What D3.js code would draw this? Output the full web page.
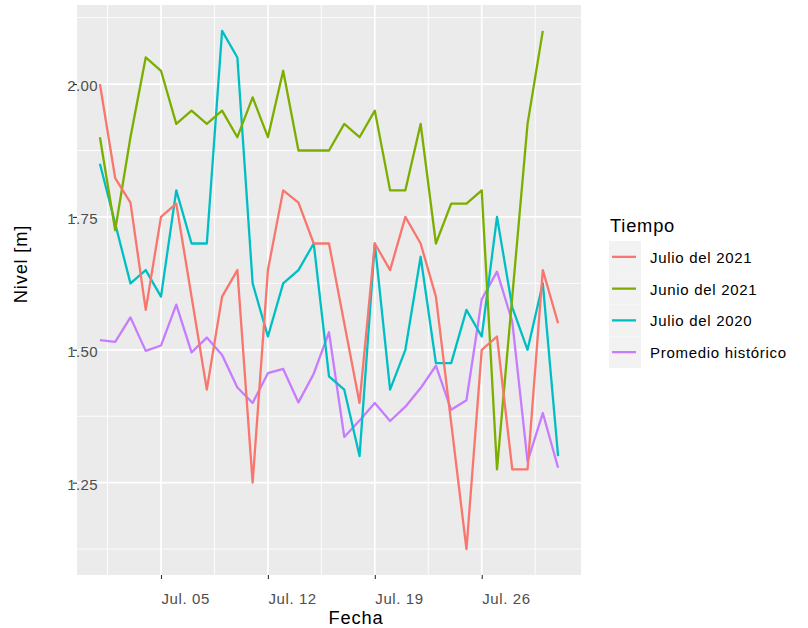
<!DOCTYPE html>
<html>
<head>
<meta charset="utf-8">
<script src="https://cdn.jsdelivr.net/npm/d3@7"></script>
<style>
  body { margin: 0; background: #fff; }
  text { font-family: "Liberation Sans", Arial, sans-serif; }
</style>
</head>
<body>
<div id="vis-container"></div>
<script>
// Dias del mes (fechas de julio); null = dia sin dato
const dias = [1, 2, 3, 4, 5, 6, 7, 8, 9, 10, 11, 12, 13, 14, 15, 16,
              17, 18, 19, 20, 21, 22, 23, 24, 25, 26, 27, 28, 29, 30, 31];

const julio2021 = [2.00, 1.823, 1.777, 1.575, 1.75, 1.775, null, 1.425, 1.60, 1.65, 1.25, 1.65,
                   1.80, 1.777, 1.70, 1.70, null, 1.40, 1.70, 1.65, 1.75, 1.70, 1.60, null,
                   1.125, 1.50, 1.525, 1.275, 1.275, 1.65, 1.55];
const junio2021 = [1.90, 1.725, 1.90, 2.05, 2.025, 1.925, 1.95, 1.925, 1.95, 1.90, 1.975, 1.90,
                   2.025, 1.875, 1.875, 1.875, 1.925, 1.90, 1.95, 1.80, 1.80, 1.925, 1.70, 1.775,
                   1.775, 1.80, 1.275, null, 1.925, 2.10, null];
const julio2020 = [1.85, null, 1.625, 1.65, 1.60, 1.80, 1.70, 1.70, 2.10, 2.05, 1.625, 1.525,
                   1.625, 1.65, 1.70, 1.45, 1.425, 1.30, 1.70, 1.425, 1.50, 1.675, 1.475, 1.475,
                   1.575, 1.525, 1.75, 1.58, 1.50, 1.625, 1.30];
const promedio  = [1.518, 1.515, 1.561, 1.498, 1.508, 1.585, 1.495, 1.523, 1.49, 1.429, 1.40, 1.456,
                   1.464, 1.401, 1.455, 1.533, 1.336, 1.367, 1.40, 1.366, 1.393, 1.428, 1.47, 1.387,
                   1.405, 1.595, 1.647, 1.553, 1.29, 1.381, 1.278];

const nombres = ["Julio del 2021", "Junio del 2021", "Julio del 2020", "Promedio histórico"];
const colores = ["#F8766D", "#7CAE00", "#00BFC4", "#C77CFF"];

const xTicks = [5, 12, 19, 26];
const xTickLabels = ["Jul. 05", "Jul. 12", "Jul. 19", "Jul. 26"];
const yTicks = [1.25, 1.50, 1.75, 2.00];

// Dimensions
const width = 808;
const height = 628;
const panel = { left: 77, right: 581, top: 5, bottom: 575 };

const svg = d3.select("#vis-container")
              .append("svg")
              .attr("width", width)
              .attr("height", height);

const valores = [julio2021, junio2021, julio2020, promedio];

// Scales, with ggplot style 5% expansion
const [minX, maxX] = d3.extent(dias);
const padX = (maxX - minX) * 0.05;
const x = d3.scaleLinear()
            .domain([minX - padX, maxX + padX])
            .range([panel.left, panel.right]);

const [minY, maxY] = d3.extent(valores.flat().filter(v => v != null));
const padY = (maxY - minY) * 0.05;
const y = d3.scaleLinear()
            .domain([minY - padY, maxY + padY])
            .range([panel.bottom, panel.top]);

// Panel background
svg.append("rect")
   .attr("x", panel.left)
   .attr("y", panel.top)
   .attr("width", panel.right - panel.left)
   .attr("height", panel.bottom - panel.top)
   .attr("fill", "#EBEBEB");

// Minor grid (half way between major ticks)
const xMinor = [xTicks[0] - 3.5].concat(xTicks.map(d => d + 3.5));
const yMinor = [yTicks[0] - 0.125].concat(yTicks.map(d => d + 0.125));

svg.append("g").selectAll("line")
   .data(yMinor.filter(d => y(d) > panel.top && y(d) < panel.bottom))
   .enter().append("line")
   .attr("x1", panel.left).attr("x2", panel.right)
   .attr("y1", d => y(d)).attr("y2", d => y(d))
   .attr("stroke", "#fff").attr("stroke-width", 0.9);

svg.append("g").selectAll("line")
   .data(xMinor.filter(d => x(d) > panel.left && x(d) < panel.right))
   .enter().append("line")
   .attr("y1", panel.top).attr("y2", panel.bottom)
   .attr("x1", d => x(d)).attr("x2", d => x(d))
   .attr("stroke", "#fff").attr("stroke-width", 0.9);

// Major grid
svg.append("g").selectAll("line")
   .data(yTicks)
   .enter().append("line")
   .attr("x1", panel.left).attr("x2", panel.right)
   .attr("y1", d => y(d)).attr("y2", d => y(d))
   .attr("stroke", "#fff").attr("stroke-width", 1.7);

svg.append("g").selectAll("line")
   .data(xTicks)
   .enter().append("line")
   .attr("y1", panel.top).attr("y2", panel.bottom)
   .attr("x1", d => x(d)).attr("x2", d => x(d))
   .attr("stroke", "#fff").attr("stroke-width", 1.7);

// Lines (purple first, red on top)
const line = d3.line()
               .x(d => x(d[0]))
               .y(d => y(d[1]));

[3, 2, 1, 0].forEach(i => {
  const pts = dias.map((d, j) => [d, valores[i][j]]).filter(p => p[1] != null);
  svg.append("path")
     .datum(pts)
     .attr("fill", "none")
     .attr("stroke", colores[i])
     .attr("stroke-width", 2.3)
     .attr("stroke-linejoin", "round")
     .attr("d", line);
});

// Axes
svg.append("g")
   .attr("transform", `translate(0,${panel.bottom})`)
   .call(d3.axisBottom(x)
           .tickValues(xTicks)
           .tickFormat((d, i) => xTickLabels[i])
           .tickSize(4))
   .call(g => g.select(".domain").remove())
   .call(g => g.selectAll("line").attr("stroke", "#333").attr("stroke-width", 1.1))
   .call(g => g.selectAll("text")
               .attr("y", 18)
               .attr("text-anchor", "start")
               .attr("fill", "#4D4D4D")
               .attr("font-size", "15px")
               .attr("letter-spacing", "0.6px")
               .attr("font-family", "Liberation Sans, Arial, sans-serif"));

svg.append("g")
   .attr("transform", `translate(${panel.left},0)`)
   .call(d3.axisLeft(y)
           .tickValues(yTicks)
           .tickFormat(d3.format(".2f"))
           .tickSize(4))
   .call(g => g.select(".domain").remove())
   .call(g => g.selectAll("text")
               .attr("x", 21)
               .attr("dy", "0.45em")
               .attr("fill", "#4D4D4D")
               .attr("font-size", "15px")
               .attr("letter-spacing", "0.4px")
               .attr("font-family", "Liberation Sans, Arial, sans-serif"))
   .call(g => g.selectAll("line").attr("stroke", "#333").attr("stroke-width", 1.1).raise());

// Axis titles
svg.append("text")
   .attr("x", 356)
   .attr("y", 624)
   .attr("text-anchor", "middle")
   .attr("font-size", "18.3px")
   .attr("letter-spacing", "0.8px")
   .attr("fill", "#000")
   .text("Fecha");

svg.append("text")
   .attr("transform", "translate(27,264) rotate(-90)")
   .attr("text-anchor", "middle")
   .attr("font-size", "18.3px")
   .attr("letter-spacing", "0.8px")
   .attr("fill", "#000")
   .text("Nivel [m]");

// Legend
const legend = svg.append("g").attr("transform", "translate(609,241)");
const keyH = 31.75;

legend.append("text")
      .attr("x", 1)
      .attr("y", -9)
      .attr("font-size", "18.3px")
      .attr("letter-spacing", "0.8px")
      .attr("fill", "#000")
      .text("Tiempo");

nombres.forEach((n, i) => {
  const row = legend.append("g").attr("transform", `translate(0,${i * keyH})`);
  row.append("rect")
     .attr("width", 32)
     .attr("height", keyH)
     .attr("fill", "#F2F2F2");
  row.append("line")
     .attr("x1", 3).attr("x2", 27)
     .attr("y1", keyH / 2).attr("y2", keyH / 2)
     .attr("stroke", colores[i])
     .attr("stroke-width", 2.3);
  row.append("text")
     .attr("x", 41)
     .attr("y", keyH / 2 + 6)
     .attr("font-size", "15px")
     .attr("letter-spacing", "0.7px")
     .attr("fill", "#000")
     .text(n);
});
</script>
</body>
</html>
